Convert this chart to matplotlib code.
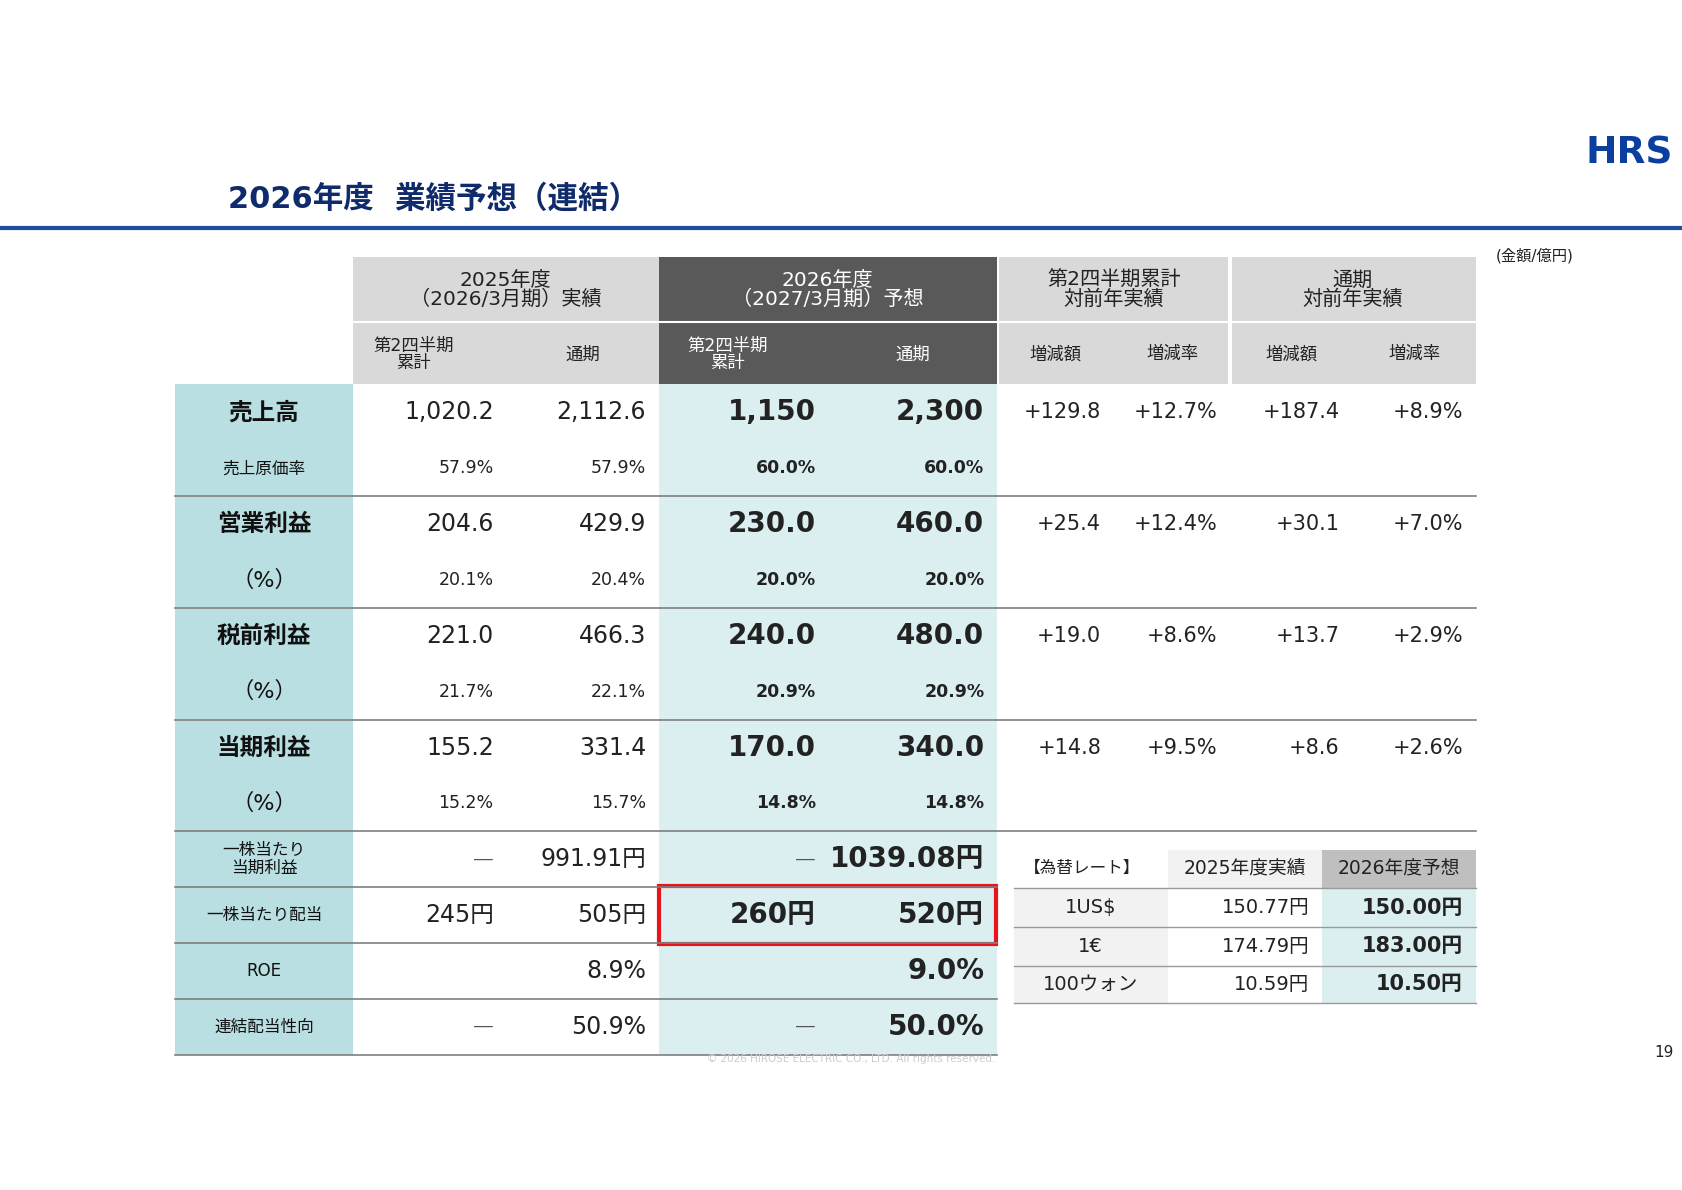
import matplotlib.pyplot as plt
from matplotlib.patches import Rectangle

FONT = ['DejaVu Sans', 'Noto Sans CJK JP']
plt.rcParams['font.family'] = FONT

# ---- data ----
row_labels = ['売上高', '売上原価率', '営業利益', '(%)', '税前利益', '(%)', '当期利益', '(%)',
              '一株当たり\n当期利益', '一株当たり配当', 'ROE', '連結配当性向']
row_major = [True, False, True, False, True, False, True, False, False, False, False, False]
actual_h1 = ['1,020.2', '57.9%', '204.6', '20.1%', '221.0', '21.7%', '155.2', '15.2%', '―', '245円', '', '―']
actual_fy = ['2,112.6', '57.9%', '429.9', '20.4%', '466.3', '22.1%', '331.4', '15.7%', '991.91円', '505円', '8.9%', '50.9%']
fcst_h1 = ['1,150', '60.0%', '230.0', '20.0%', '240.0', '20.9%', '170.0', '14.8%', '―', '260円', '', '―']
fcst_fy = ['2,300', '60.0%', '460.0', '20.0%', '480.0', '20.9%', '340.0', '14.8%', '1039.08円', '520円', '9.0%', '50.0%']
h1_diff = ['+129.8', '', '+25.4', '', '+19.0', '', '+14.8', '']
h1_rate = ['+12.7%', '', '+12.4%', '', '+8.6%', '', '+9.5%', '']
fy_diff = ['+187.4', '', '+30.1', '', '+13.7', '', '+8.6', '']
fy_rate = ['+8.9%', '', '+7.0%', '', '+2.9%', '', '+2.6%', '']

fx_labels = ['1US$', '1€', '100ウォン']
fx_2025 = ['150.77円', '174.79円', '10.59円']
fx_2026 = ['150.00円', '183.00円', '10.50円']

NAVY = '#0f2b6b'
TEAL = '#b9dfe2'
LTEAL = '#dbeef0'

fig = plt.figure(figsize=(16.83, 11.9), dpi=100)
ax = fig.add_axes([0, 0, 1, 1])
ax.set_xlim(0, 1568)
ax.set_ylim(1108, 0)
ax.axis('off')

def rect(x0, y0, x1, y1, fc, **kw):
    ax.add_patch(Rectangle((x0, y0), x1 - x0, y1 - y0, facecolor=fc, edgecolor='none', **kw))

def txt(x, y, s, size, ha='center', bold=False, color='#222222'):
    if s == '―':
        # thin dash as in the slide
        ax.text(x, y, '—', fontsize=17, ha=ha, va='center', color='#555555',
                family='Noto Sans CJK JP', fontweight='light')
        return
    ax.text(x, y, s, fontsize=size, ha=ha, va='center', color=color,
            fontweight='bold' if bold else 'normal', family=FONT, linespacing=1.0)

# title, rule, logo
txt(212, 185, '2026年度  業績予想（連結）', 22, ha='left', bold=True, color=NAVY)
ax.plot([0, 1568], [212, 212], color='#1f4e9c', lw=3)
ax.text(1518, 143, 'HRS', fontsize=27, ha='center', va='center', color='#0a3fa0',
        fontweight='heavy', family='DejaVu Sans')
txt(1430, 238, '(金額/億円)', 11)
txt(1550, 980, '19', 11)

# column edges
cx = [163, 329, 472, 614, 772, 929, 1038, 1146, 1260, 1375]
top, mid, y0 = 239, 300, 358
rh = 52
ys = [y0 + i * rh for i in range(13)]

# header backgrounds
rect(329, top, 614, y0, '#d9d9d9')
rect(614, top, 929, y0, '#595959')
rect(931, top, 1144, y0, '#d9d9d9')
rect(1148, top, 1375, y0, '#d9d9d9')
for xa, xb in [(329, 614), (614, 929), (931, 1144), (1148, 1375)]:
    ax.plot([xa, xb], [mid, mid], color='white', lw=1.5)
txt(471, 270, '2025年度\n（2026/3月期）実績', 14.5)
txt(771, 270, '2026年度\n（2027/3月期）予想', 14.5, color='white')
txt(1038, 270, '第2四半期累計\n対前年実績', 14.5)
txt(1260, 270, '通期\n対前年実績', 14.5)
sub = ['第2四半期\n累計', '通期', '第2四半期\n累計', '通期', '増減額', '増減率', '増減額', '増減率']
for i, s in enumerate(sub):
    xc = (cx[i + 1] + cx[i + 2]) / 2 - (15 if '\n' in s else 0)
    txt(xc, 330, s, 12.5, color='white' if i in (2, 3) else '#222222')

# body backgrounds
rect(163, y0, 329, ys[-1], TEAL)
rect(614, y0, 929, ys[-1], LTEAL)

for i, lab in enumerate(row_labels):
    yc = (ys[i] + ys[i + 1]) / 2
    major = row_major[i]
    if major:
        txt(246, yc, lab, 17, bold=True, color='#111111')
    elif lab == '(%)':
        txt(246, yc, '（%）', 16, color='#111111')
    else:
        txt(246, yc, lab, 12, color='#111111')
    big = major or i >= 8
    s_reg = 17 if big else 12.5
    s_bold = 20 if big else 12.5
    txt(cx[2] - 12, yc, actual_h1[i], s_reg, ha='right')
    txt(cx[3] - 12, yc, actual_fy[i], s_reg, ha='right')
    txt(cx[4] - 12, yc, fcst_h1[i], s_bold, ha='right', bold=True)
    txt(cx[5] - 12, yc, fcst_fy[i], s_bold, ha='right', bold=True)
    if i < 8:
        for j, col in enumerate([h1_diff, h1_rate, fy_diff, fy_rate]):
            txt(cx[j + 6] - 12, yc, col[i], 15, ha='right')

# row separators
for k in (2, 4, 6, 8):
    ax.plot([163, 1375], [ys[k], ys[k]], color='#7f7f7f', lw=1.2)
for k in (9, 10, 11, 12):
    ax.plot([163, 929], [ys[k], ys[k]], color='#7f7f7f', lw=1.2)

# red box around dividend forecast
ax.add_patch(Rectangle((614, ys[9] - 1), 314, rh + 2, facecolor='none', edgecolor='#e8141c', lw=3))

# FX table
fy = [791, 827, 863, 899, 934]
fxc = [945, 1088, 1232, 1375]
rect(fxc[1], fy[0], fxc[2], fy[1], '#f2f2f2')
rect(fxc[2], fy[0], fxc[3], fy[1], '#bfbfbf')
rect(fxc[0], fy[1], fxc[1], fy[4], '#f2f2f2')
rect(fxc[2], fy[1], fxc[3], fy[4], LTEAL)
txt(1008, 808, '【為替レート】', 12)
txt(1160, 809, '2025年度実績', 13.5)
txt(1303, 809, '2026年度予想', 13.5)
for i in range(3):
    yc = (fy[i + 1] + fy[i + 2]) / 2
    txt(1016, yc, fx_labels[i], 14)
    txt(fxc[2] - 12, yc, fx_2025[i], 14, ha='right')
    txt(fxc[3] - 12, yc, fx_2026[i], 15, ha='right', bold=True)
for k in (1, 2, 3, 4):
    ax.plot([fxc[0], fxc[3]], [fy[k], fy[k]], color='#9a9a9a', lw=1)

txt(793, 986, '© 2026 HIROSE ELECTRIC CO., LTD. All rights reserved.', 7.5, color='#cccccc')

fig.savefig('out.png', dpi=100)
